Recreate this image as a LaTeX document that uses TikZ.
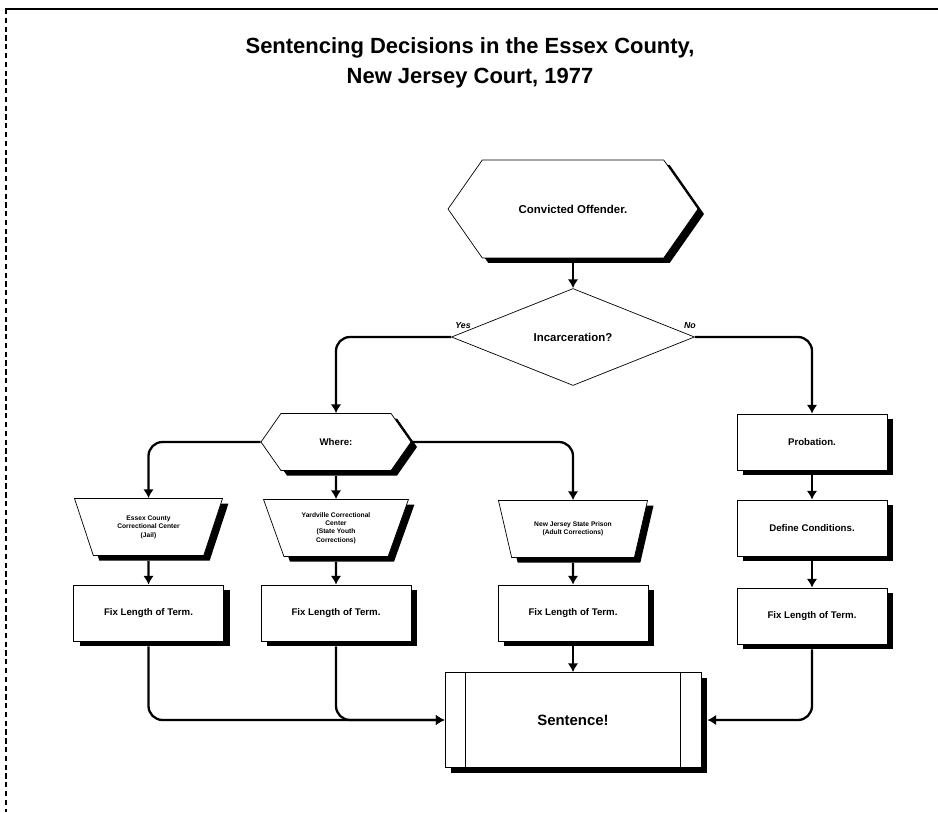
\documentclass[tikz,border=0pt]{standalone}
\usepackage{fontspec}
\setmainfont{Liberation Sans}
\usepackage{tikz}
\usetikzlibrary{shapes.geometric,shapes.symbols,shadows,arrows.meta}

\begin{document}
\begin{tikzpicture}[
    shd/.style={drop shadow={shadow xshift=0.12cm,shadow yshift=-0.1cm,fill=black,opacity=1}},
    hexa/.style={draw,fill=white,shd,signal,signal to=west and east,signal pointer angle=110,inner sep=0pt},
    boite/.style={draw,fill=white,shd,rectangle,minimum width=3cm,minimum height=1.12cm,font=\bfseries\fontsize{5.5}{6.5}\selectfont},
    trap/.style={draw,fill=white,shd,trapezium,shape border rotate=180,trapezium angle=70,trapezium stretches=true,
        minimum height=1.14cm,align=center,font=\bfseries\fontsize{3.8}{4.8}\selectfont},
    fl/.style={-{Latex[length=5pt,width=6pt]},line width=1.3pt,rounded corners=8pt}
]
    \useasboundingbox (0,0) rectangle (18.76,16.24);
    \draw[line width=1pt] (0.1,16.06) -- (18.76,16.06);
    \draw[densely dashed,line width=0.6pt] (0.12,16.06) -- (0.12,0);

    \node[align=center,font=\bfseries\fontsize{12.5}{17}\selectfont] (titre) at (9.4,14.98)
        {Sentencing Decisions in the Essex County,\\New Jersey Court, 1977};

    \node[hexa,minimum width=5cm,minimum height=1.96cm,font=\bfseries\fontsize{6.5}{8}\selectfont] (cO) at (11.46,12.06) {Convicted Offender.};
    \node[draw,fill=white,diamond,minimum width=4.86cm,minimum height=1.94cm,inner sep=0pt,font=\bfseries\fontsize{6.5}{8}\selectfont] (inc) at (11.46,9.5) {Incarceration?};
    \node[hexa,minimum width=3cm,minimum height=1.14cm,font=\bfseries\fontsize{5.5}{6.5}\selectfont] (ou) at (6.72,7.4) {Where:};

    \node[trap,minimum width=2.96cm] (jail) at (2.97,5.7) {Essex County\\Correctional Center\\(Jail)};
    \node[trap,minimum width=2.9cm] (yard) at (6.72,5.68) {Yardville Correctional\\Center\\(State Youth\\Corrections)};
    \node[trap,minimum width=3cm] (nj) at (11.46,5.66) {New Jersey State Prison\\(Adult Corrections)};

    \node[boite] (prob) at (16.24,7.4) {Probation.};
    \node[boite] (def) at (16.24,5.68) {Define Conditions.};

    \node[boite] (fix1) at (2.97,3.98) {Fix Length of Term.};
    \node[boite] (fix2) at (6.72,3.98) {Fix Length of Term.};
    \node[boite] (fix3) at (11.46,3.98) {Fix Length of Term.};
    \node[boite] (fix4) at (16.24,3.92) {Fix Length of Term.};

    \node[draw,fill=white,shd,minimum width=5.12cm,minimum height=1.9cm,font=\bfseries\fontsize{8.5}{10}\selectfont] (sent) at (11.46,1.84) {Sentence!};
    \draw ([xshift=0.42cm]sent.north west) -- ([xshift=0.42cm]sent.south west);
    \draw ([xshift=-0.42cm]sent.north east) -- ([xshift=-0.42cm]sent.south east);

    % connecteurs
    \draw[fl] (cO.south) ++(0,-0.1) -- (inc.north);
    \draw[fl] (inc.west) -| (ou.north);
    \draw[fl] (inc.east) -| (prob.north);
    \node[font=\bfseries\itshape\fontsize{5}{6}\selectfont] (oui) at (9.26,9.72) {Yes};
    \node[font=\bfseries\itshape\fontsize{5}{6}\selectfont] (non) at (13.8,9.72) {No};

    \draw[fl] (ou.west) -| (jail.north);
    \draw[fl] (ou.south) ++(0,-0.1) -- (yard.north);
    \draw[fl] (ou.east) -| (nj.north);

    \draw[fl] (jail.south) ++(0,-0.1) -- (fix1.north);
    \draw[fl] (yard.south) ++(0,-0.1) -- (fix2.north);
    \draw[fl] (nj.south) ++(0,-0.1) -- (fix3.north);
    \draw[fl] (prob.south) ++(0,-0.1) -- (def.north);
    \draw[fl] (def.south) ++(0,-0.1) -- (fix4.north);

    \draw[fl] (fix3.south) ++(0,-0.1) -- (sent.north);
    \draw[fl] (fix1.south) ++(0,-0.1) |- (sent.west);
    \draw[fl] (fix2.south) ++(0,-0.1) |- (sent.west);
    \draw[fl] (fix4.south) ++(0,-0.1) |- ([xshift=0.12cm]sent.east);
\end{tikzpicture}
\end{document}
